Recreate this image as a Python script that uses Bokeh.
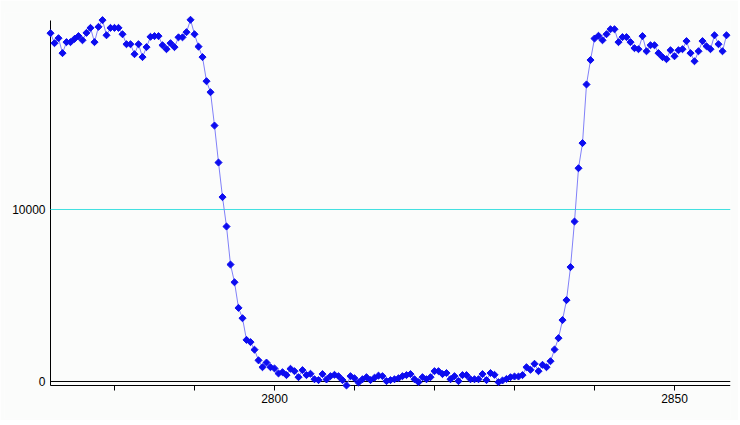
import math
from bokeh.plotting import figure
from bokeh.models import Range1d, FixedTicker, LinearAxis
from bokeh.embed import file_html
from bokeh.resources import INLINE

# ---- data ----
intensity = [
    20250, 19670, 19960, 19090, 19730, 19730, 19920, 20080, 19840, 20270,
    20560, 19730, 20620, 21010, 20130, 20560, 20560, 20560, 20190, 19610,
    19610, 19030, 19610, 18860, 19440, 20040, 20080, 20080, 19550, 19320,
    19670, 19440, 20010, 20010, 20310, 21030, 20190, 19470, 18860, 17460,
    16820, 14880, 12730, 10720, 9010, 6800, 5770, 4280, 3680, 2420,
    2290, 1850, 1230, 830, 1100, 830, 760, 470, 540, 370,
    740, 600, 250, 660, 370, 450, 130, 80, 430, 120,
    310, 390, 310, 80, -230, 310, 190, -60, 130, 250,
    80, 220, 340, 310, 20, 80, 130, 190, 310, 370,
    430, 130, -40, 250, 130, 250, 600, 600, 430, 490,
    130, 310, 20, 370, 370, 130, 130, 130, 430, 80,
    490, 390, -40, 60, 150, 250, 290, 290, 370, 830,
    680, 1030, 600, 970, 830, 1180, 1860, 2520, 3570, 4730,
    6650, 9300, 12400, 13860, 17270, 18690, 19940, 20100, 19840, 20190,
    20480, 20480, 19730, 20020, 20020, 19730, 19380, 19320, 20080, 19200,
    19550, 19550, 19090, 18860, 18740, 19260, 18910, 19260, 19320, 19790,
    19090, 18620, 19200, 19790, 19490, 19320, 20130, 19610, 19200, 20130,
]
x_first = 2772.0
x_step = 0.5
x_pos = [x_first + x_step * i for i in range(len(intensity))]

x_ticks = [2780, 2790, 2800, 2810, 2820, 2830, 2840, 2850]
x_tick_labels = {2800: "2800", 2850: "2850"}
y_ticks = [0, 10000]
y_tick_labels = {0: "0", 10000: "10000"}
ref_levels = [0, 10000]
ref_colors = ["#000000", "#40e0e0"]

# ---- ranges / geometry ----
X_MIN, X_MAX = 2766.25, 2857.0
AX_X0, AX_X1 = 2772.0, 2857.0
Y_MIN, Y_MAX = -2151.2, 21453.5
AX_Y0, AX_Y1 = -233.0, 20988.0

BG = "#fbfcfb"
FONT = "Liberation Sans"

p = figure(width=738, height=420, output_backend="svg", toolbar_location=None,
           x_range=Range1d(X_MIN, X_MAX), y_range=Range1d(Y_MIN, Y_MAX),
           x_axis_location=None, y_axis_location=None,
           min_border_left=4, min_border_right=8, min_border_top=12,
           min_border_bottom=2)
p.background_fill_color = BG
p.border_fill_color = BG
p.outline_line_color = None
p.xgrid.visible = False
p.ygrid.visible = False

# reference lines (zero line and 10000 line)
p.segment(x0=[AX_X0] * len(ref_levels), x1=[AX_X1] * len(ref_levels),
          y0=ref_levels, y1=ref_levels, line_color=ref_colors, line_width=1)

# data
p.line(x_pos, intensity, line_color="#8080f8", line_width=1)
p.scatter(x_pos, intensity, marker="square", size=5, angle=math.pi / 4,
          fill_color="#0c0cf0", line_color="#0c0cf0", line_width=1)

# axes (drawn beneath the data, as in the reference)
xaxis = LinearAxis(ticker=FixedTicker(ticks=x_ticks),
                   major_label_overrides={t: x_tick_labels.get(t, "") for t in x_ticks})
xaxis.level = "underlay"
xaxis.fixed_location = AX_Y0
xaxis.bounds = (AX_X0, AX_X1)
xaxis.axis_line_color = "black"
xaxis.major_tick_line_color = "black"
xaxis.major_tick_out = 5
xaxis.major_tick_in = 0
xaxis.minor_tick_line_color = None
xaxis.major_label_standoff = 3
xaxis.major_label_text_font = FONT
xaxis.major_label_text_font_size = "12px"
xaxis.major_label_text_color = "black"
p.add_layout(xaxis, "below")

yaxis = LinearAxis(ticker=FixedTicker(ticks=y_ticks),
                   major_label_overrides=y_tick_labels)
yaxis.level = "underlay"
yaxis.fixed_location = AX_X0
yaxis.bounds = (AX_Y0, AX_Y1)
yaxis.axis_line_color = "black"
yaxis.major_tick_line_color = None
yaxis.major_tick_out = 0
yaxis.major_tick_in = 0
yaxis.minor_tick_line_color = None
yaxis.major_label_standoff = 5
yaxis.major_label_text_font = FONT
yaxis.major_label_text_font_size = "12px"
yaxis.major_label_text_color = "black"
p.add_layout(yaxis, "left")

open("out.html", "w").write(file_html(p, INLINE))
